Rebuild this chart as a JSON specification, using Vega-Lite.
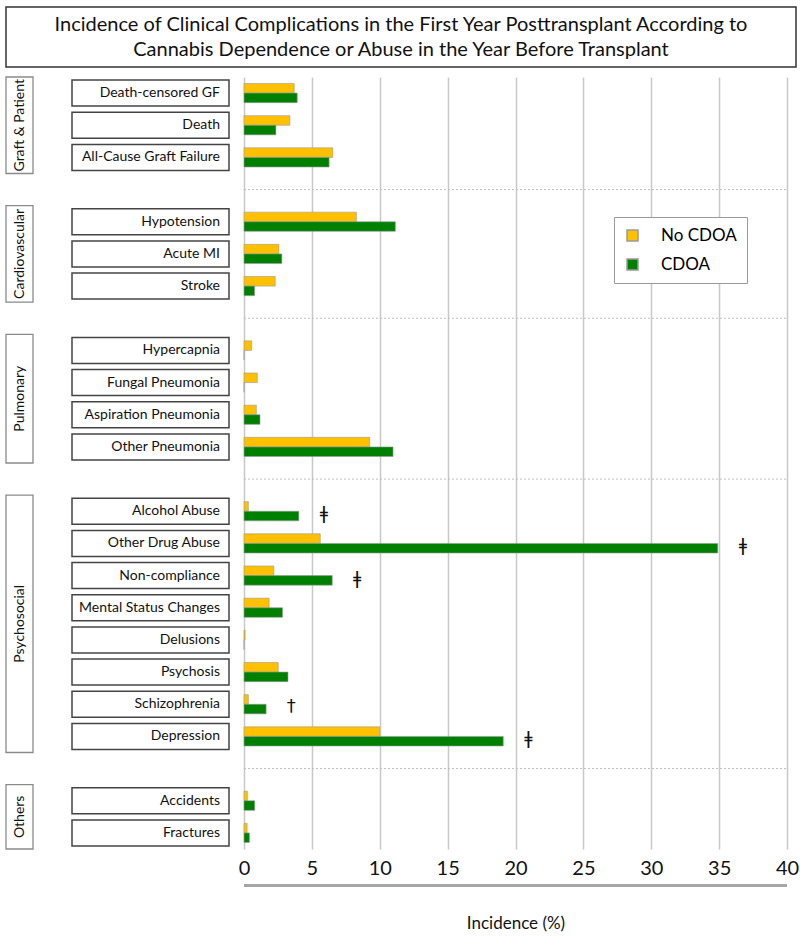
{
  "$schema": "https://vega.github.io/schema/vega-lite/v6.json",
  "padding": {"left": 5, "top": 6, "right": 0, "bottom": 5},
  "background": "white",
  "config": {
    "view": {"stroke": null},
    "font": "Lato"
  },
  "vconcat": [
    {
      "width": 790,
      "height": 60,
      "data": {"values": [{"k": 1}]},
      "layer": [
        {
          "mark": {"type": "rect", "fill": "white", "stroke": "#333333", "strokeWidth": 1.5},
          "encoding": {
            "x": {"datum": 0, "type": "quantitative", "scale": {"domain": [0, 1], "nice": false}, "axis": null},
            "x2": {"datum": 1},
            "y": {"datum": 0, "type": "quantitative", "scale": {"domain": [0, 1], "nice": false}, "axis": null},
            "y2": {"datum": 1}
          }
        },
        {
          "mark": {
            "type": "text",
            "text": ["Incidence of Clinical Complications in the First Year Posttransplant According to", "Cannabis Dependence or Abuse in the Year Before Transplant"],
            "fontSize": 20,
            "lineHeight": 25,
            "dy": -12.5,
            "align": "center",
            "baseline": "middle",
            "color": "#111111"
          },
          "encoding": {
            "x": {"datum": 0.5, "type": "quantitative"},
            "y": {"datum": 0.5, "type": "quantitative"}
          }
        }
      ]
    },
    {
      "spacing": 37,
      "hconcat": [
        {
          "width": 27,
          "height": 772,
          "data": {"values": [
            {"group": "Graft & Patient", "start": 0, "end": 3},
            {"group": "Cardiovascular", "start": 4, "end": 7},
            {"group": "Pulmonary", "start": 8, "end": 12},
            {"group": "Psychosocial", "start": 13, "end": 21},
            {"group": "Others", "start": 22, "end": 24}
          ]},
          "layer": [
            {
              "mark": {"type": "rect", "fill": "white", "stroke": "#8a8a8a", "strokeWidth": 1.3},
              "encoding": {
                "x": {"datum": 0, "type": "quantitative", "scale": {"domain": [0, 1], "nice": false}, "axis": null},
                "x2": {"datum": 1},
                "y": {"field": "start", "type": "quantitative", "scale": {"domain": [0, 24], "nice": false, "reverse": true}, "axis": null},
                "y2": {"field": "end"}
              }
            },
            {
              "transform": [
                {"fold": ["start", "end"], "as": ["k", "v"]},
                {"aggregate": [{"op": "mean", "field": "v", "as": "mid"}], "groupby": ["group"]}
              ],
              "mark": {"type": "text", "angle": 270, "fontSize": 14, "align": "center", "baseline": "middle", "color": "#111111"},
              "encoding": {
                "x": {"datum": 0.5, "type": "quantitative"},
                "y": {"field": "mid", "type": "quantitative"},
                "text": {"field": "group", "type": "nominal"}
              }
            }
          ]
        },
        {
          "spacing": 8,
          "hconcat": [
            {
              "width": 157,
              "height": 772,
              "data": {"values": [
                {"cat": "Death-censored GF"}, {"cat": "Death"}, {"cat": "All-Cause Graft Failure"},
                {"cat": "Hypotension"}, {"cat": "Acute MI"}, {"cat": "Stroke"},
                {"cat": "Hypercapnia"}, {"cat": "Fungal Pneumonia"}, {"cat": "Aspiration Pneumonia"}, {"cat": "Other Pneumonia"},
                {"cat": "Alcohol Abuse"}, {"cat": "Other Drug Abuse"}, {"cat": "Non-compliance"}, {"cat": "Mental Status Changes"},
                {"cat": "Delusions"}, {"cat": "Psychosis"}, {"cat": "Schizophrenia"}, {"cat": "Depression"},
                {"cat": "Accidents"}, {"cat": "Fractures"}
              ]},
              "layer": [
                {
                  "mark": {"type": "rect", "fill": "white", "stroke": "#444444", "strokeWidth": 1.5},
                  "encoding": {
                    "x": {"datum": 0, "type": "quantitative", "scale": {"domain": [0, 1], "nice": false}, "axis": null},
                    "x2": {"datum": 1},
                    "y": {
                      "field": "cat", "type": "nominal", "axis": null,
                      "scale": {
                        "domain": ["Death-censored GF", "Death", "All-Cause Graft Failure", "gap1", "Hypotension", "Acute MI", "Stroke", "gap2", "Hypercapnia", "Fungal Pneumonia", "Aspiration Pneumonia", "Other Pneumonia", "gap3", "Alcohol Abuse", "Other Drug Abuse", "Non-compliance", "Mental Status Changes", "Delusions", "Psychosis", "Schizophrenia", "Depression", "gap4", "Accidents", "Fractures"],
                        "paddingInner": 0.19,
                        "paddingOuter": 0.095
                      }
                    }
                  }
                },
                {
                  "mark": {"type": "text", "align": "right", "baseline": "middle", "dx": -9, "fontSize": 14, "color": "#111111"},
                  "encoding": {
                    "x": {"datum": 1, "type": "quantitative"},
                    "y": {"field": "cat", "type": "nominal", "axis": null},
                    "text": {"field": "cat", "type": "nominal"}
                  }
                }
              ]
            },
            {
              "spacing": 6,
              "vconcat": [
                {
                  "width": 543,
                  "height": 772,
                  "data": {"values": [
                    {"cat": "Death-censored GF", "series": "No CDOA", "value": 3.7},
                    {"cat": "Death-censored GF", "series": "CDOA", "value": 3.92},
                    {"cat": "Death", "series": "No CDOA", "value": 3.38},
                    {"cat": "Death", "series": "CDOA", "value": 2.35},
                    {"cat": "All-Cause Graft Failure", "series": "No CDOA", "value": 6.54},
                    {"cat": "All-Cause Graft Failure", "series": "CDOA", "value": 6.27},
                    {"cat": "Hypotension", "series": "No CDOA", "value": 8.28},
                    {"cat": "Hypotension", "series": "CDOA", "value": 11.15},
                    {"cat": "Acute MI", "series": "No CDOA", "value": 2.57},
                    {"cat": "Acute MI", "series": "CDOA", "value": 2.79},
                    {"cat": "Stroke", "series": "No CDOA", "value": 2.3},
                    {"cat": "Stroke", "series": "CDOA", "value": 0.78},
                    {"cat": "Hypercapnia", "series": "No CDOA", "value": 0.56},
                    {"cat": "Hypercapnia", "series": "CDOA", "value": 0},
                    {"cat": "Fungal Pneumonia", "series": "No CDOA", "value": 0.98},
                    {"cat": "Fungal Pneumonia", "series": "CDOA", "value": 0},
                    {"cat": "Aspiration Pneumonia", "series": "No CDOA", "value": 0.91},
                    {"cat": "Aspiration Pneumonia", "series": "CDOA", "value": 1.18},
                    {"cat": "Other Pneumonia", "series": "No CDOA", "value": 9.26},
                    {"cat": "Other Pneumonia", "series": "CDOA", "value": 10.98},
                    {"cat": "Alcohol Abuse", "series": "No CDOA", "value": 0.32},
                    {"cat": "Alcohol Abuse", "series": "CDOA", "value": 4.04, "sig": "ǂ"},
                    {"cat": "Other Drug Abuse", "series": "No CDOA", "value": 5.62},
                    {"cat": "Other Drug Abuse", "series": "CDOA", "value": 34.9, "sig": "ǂ"},
                    {"cat": "Non-compliance", "series": "No CDOA", "value": 2.2},
                    {"cat": "Non-compliance", "series": "CDOA", "value": 6.5, "sig": "ǂ"},
                    {"cat": "Mental Status Changes", "series": "No CDOA", "value": 1.85},
                    {"cat": "Mental Status Changes", "series": "CDOA", "value": 2.84},
                    {"cat": "Delusions", "series": "No CDOA", "value": 0.08},
                    {"cat": "Delusions", "series": "CDOA", "value": 0},
                    {"cat": "Psychosis", "series": "No CDOA", "value": 2.52},
                    {"cat": "Psychosis", "series": "CDOA", "value": 3.24},
                    {"cat": "Schizophrenia", "series": "No CDOA", "value": 0.32},
                    {"cat": "Schizophrenia", "series": "CDOA", "value": 1.63, "sig": "†"},
                    {"cat": "Depression", "series": "No CDOA", "value": 9.99},
                    {"cat": "Depression", "series": "CDOA", "value": 19.1, "sig": "ǂ"},
                    {"cat": "Accidents", "series": "No CDOA", "value": 0.25},
                    {"cat": "Accidents", "series": "CDOA", "value": 0.79},
                    {"cat": "Fractures", "series": "No CDOA", "value": 0.23},
                    {"cat": "Fractures", "series": "CDOA", "value": 0.4}
                  ]},
                  "encoding": {
                    "y": {
                      "field": "cat", "type": "nominal", "axis": null,
                      "scale": {
                        "domain": ["Death-censored GF", "Death", "All-Cause Graft Failure", "gap1", "Hypotension", "Acute MI", "Stroke", "gap2", "Hypercapnia", "Fungal Pneumonia", "Aspiration Pneumonia", "Other Pneumonia", "gap3", "Alcohol Abuse", "Other Drug Abuse", "Non-compliance", "Mental Status Changes", "Delusions", "Psychosis", "Schizophrenia", "Depression", "gap4", "Accidents", "Fractures"],
                        "paddingInner": 0,
                        "paddingOuter": 0
                      }
                    }
                  },
                  "layer": [
                    {
                      "data": {"values": [{"cat": "gap1"}, {"cat": "gap2"}, {"cat": "gap3"}, {"cat": "gap4"}]},
                      "mark": {"type": "rule", "stroke": "#bdbdbd", "strokeWidth": 1, "strokeDash": [2, 2]},
                      "encoding": {
                        "x": {"datum": 0, "type": "quantitative"},
                        "x2": {"datum": 40}
                      }
                    },
                    {
                      "transform": [{"filter": "datum.series === 'No CDOA'"}],
                      "mark": {"type": "bar", "height": 9.6, "yOffset": -4.8, "stroke": "#9a9a9a", "strokeWidth": 0.6},
                      "encoding": {
                        "x": {
                          "field": "value", "type": "quantitative",
                          "scale": {"domain": [0, 40], "nice": false},
                          "axis": {
                            "orient": "bottom",
                            "values": [0, 5, 10, 15, 20, 25, 30, 35, 40],
                            "grid": true, "gridColor": "#c8c8c8", "gridWidth": 1.5,
                            "domain": false, "ticks": false,
                            "labelFontSize": 20, "labelColor": "#111111", "labelPadding": 9, "labelFlush": false,
                            "title": null
                          }
                        },
                        "color": {
                          "field": "series", "type": "nominal",
                          "scale": {"domain": ["No CDOA", "CDOA"], "range": ["#FFC000", "#008000"]},
                          "legend": {
                            "title": null,
                            "orient": "none",
                            "legendX": 608,
                            "legendY": 210,
                            "padding": 10,
                            "fillColor": "white",
                            "strokeColor": "#9a9a9a",
                            "symbolType": "square",
                            "symbolSize": 121,
                            "labelFontSize": 17,
                            "labelOffset": 20,
                            "rowPadding": 11
                          }
                        }
                      }
                    },
                    {
                      "transform": [{"filter": "datum.series === 'CDOA'"}],
                      "mark": {"type": "bar", "height": 9.6, "yOffset": 4.8, "stroke": "#9a9a9a", "strokeWidth": 0.6},
                      "encoding": {
                        "x": {"field": "value", "type": "quantitative"},
                        "color": {"field": "series", "type": "nominal"}
                      }
                    },
                    {
                      "transform": [{"filter": "datum.sig != null"}],
                      "mark": {"type": "text", "fontSize": 18, "dx": 25, "dy": 3, "align": "center", "baseline": "middle", "color": "#111111", "font": "DejaVu Sans"},
                      "encoding": {
                        "x": {"field": "value", "type": "quantitative"},
                        "text": {"field": "sig", "type": "nominal"}
                      }
                    }
                  ]
                },
                {
                  "width": 543,
                  "height": 3,
                  "data": {"values": [{"k": 1}]},
                  "mark": {"type": "rect", "fill": "#a6a6a6"},
                  "encoding": {
                    "x": {
                      "datum": 0, "type": "quantitative",
                      "scale": {"domain": [0, 40], "nice": false},
                      "axis": {
                        "orient": "bottom", "labels": false, "ticks": false, "domain": false, "grid": false,
                        "title": "Incidence (%)", "titleFontSize": 17, "titleFontWeight": "normal", "titleColor": "#111111", "titlePadding": 28
                      }
                    },
                    "x2": {"datum": 40},
                    "y": {"datum": 0, "type": "quantitative", "scale": {"domain": [0, 1], "nice": false}, "axis": null},
                    "y2": {"datum": 1}
                  }
                }
              ]
            }
          ]
        }
      ]
    }
  ],
  "spacing": 8
}
